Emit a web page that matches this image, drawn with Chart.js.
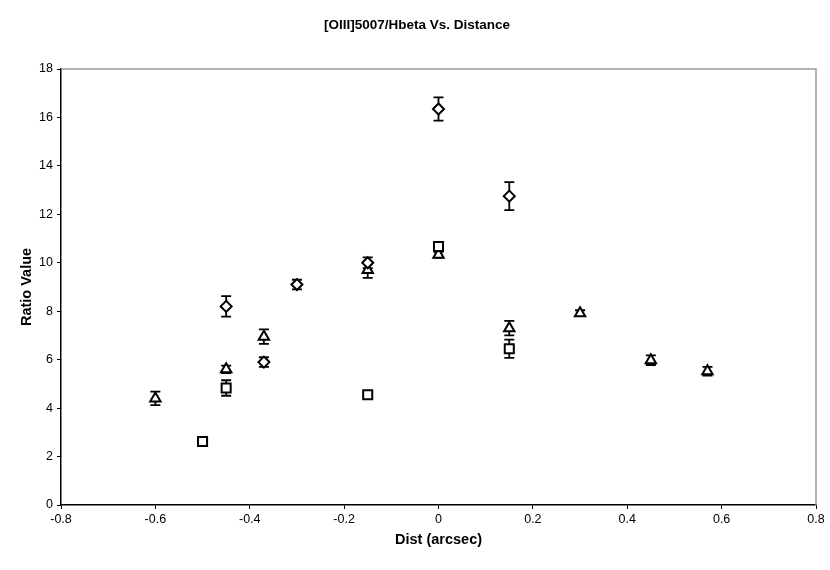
<!DOCTYPE html>
<html>
<head>
<meta charset="utf-8">
<script src="https://cdn.jsdelivr.net/npm/chart.js@4"></script>
<style>
  html, body { margin: 0; padding: 0; background: #fff; }
  #wrap { width: 830px; height: 570px; }
</style>
</head>
<body>
<div id="wrap"><canvas id="chart"></canvas></div>
<script>
// values
const diamondX = [-0.45, -0.37, -0.30, -0.15, 0, 0.15];
const diamondY = [8.2, 5.9, 9.1, 10.0, 16.35, 12.75];
const diamondErr = [0.42, 0.2, 0.2, 0.22, 0.48, 0.58];

const squareX = [-0.5, -0.45, -0.15, 0, 0.15];
const squareY = [2.62, 4.83, 4.55, 10.67, 6.45];
const squareErr = [0.08, 0.32, 0.1, 0.12, 0.38];

const triangleX = [-0.6, -0.45, -0.37, -0.15, 0, 0.15, 0.3, 0.45, 0.57];
const triangleY = [4.4, 5.6, 6.95, 9.7, 10.33, 7.3, 7.92, 5.98, 5.52];
const triangleErr = [0.28, 0.15, 0.3, 0.32, 0.12, 0.3, 0.12, 0.2, 0.18];

const xTicks = [-0.8, -0.6, -0.4, -0.2, 0, 0.2, 0.4, 0.6, 0.8];
const yTicks = [0, 2, 4, 6, 8, 10, 12, 14, 16, 18];

const FONT = "'Liberation Sans', Arial, sans-serif";

function toPoints(xs, ys, errs) {
    return xs.map((x, i) => ({ x: x, y: ys[i], err: errs[i] }));
}

function makeSet(label, xs, ys, errs, style, radius) {
    return {
        label: label,
        data: toPoints(xs, ys, errs),
        pointStyle: style,
        pointRadius: radius,
        pointHoverRadius: radius,
        pointBackgroundColor: '#fff',
        pointBorderColor: '#000',
        pointBorderWidth: 2,
        showLine: false,
    };
}

// vertical error bars with caps, drawn under the markers
const errorBars = {
    id: 'errorBars',
    beforeDatasetsDraw(chart) {
        const ctx = chart.ctx;
        const xs = chart.scales.x, ys = chart.scales.y;
        ctx.save();
        ctx.strokeStyle = '#000';
        ctx.lineWidth = 1.8;
        chart.data.datasets.forEach(ds => {
            ds.data.forEach(p => {
                const px = xs.getPixelForValue(p.x);
                const top = ys.getPixelForValue(p.y + p.err);
                const bot = ys.getPixelForValue(p.y - p.err);
                ctx.beginPath();
                ctx.moveTo(px, top); ctx.lineTo(px, bot);
                ctx.moveTo(px - 5, top); ctx.lineTo(px + 5, top);
                ctx.moveTo(px - 5, bot); ctx.lineTo(px + 5, bot);
                ctx.stroke();
            });
        });
        ctx.restore();
    }
};

// grey frame on top and right of the plot area
const frame = {
    id: 'frame',
    beforeDatasetsDraw(chart) {
        const a = chart.chartArea, ctx = chart.ctx;
        ctx.save();
        ctx.strokeStyle = '#9a9a9a';
        ctx.lineWidth = 1.5;
        ctx.beginPath();
        ctx.moveTo(a.left, a.top);
        ctx.lineTo(a.right, a.top);
        ctx.lineTo(a.right, a.bottom);
        ctx.stroke();
        ctx.restore();
    }
};

new Chart(document.getElementById('chart'), {
    type: 'scatter',
    data: {
        datasets: [
            makeSet('Diamond', diamondX, diamondY, diamondErr, 'rectRot', 5.5),
            makeSet('Square', squareX, squareY, squareErr, 'rect', 6.4),
            makeSet('Triangle', triangleX, triangleY, triangleErr, 'triangle', 6),
        ]
    },
    options: {
        responsive: true,
        maintainAspectRatio: false,
        animation: false,
        layout: { padding: { left: 18, right: 14, top: 0, bottom: 21 } },
        plugins: {
            legend: { display: false },
            tooltip: { enabled: false },
            title: {
                display: true,
                text: '[OIII]5007/Hbeta Vs. Distance',
                color: '#000',
                font: { family: FONT, size: 13.5, weight: 'bold' },
                padding: { top: 17, bottom: 35.8 }
            }
        },
        scales: {
            x: {
                type: 'linear',
                min: -0.8,
                max: 0.8,
                afterBuildTicks: s => { s.ticks = xTicks.map(v => ({ value: v })); },
                afterFit: s => { s.height = 44; },
                ticks: {
                    color: '#000',
                    font: { family: FONT, size: 12.5 },
                    padding: 3,
                    callback: v => String(Number(v.toFixed(1)))
                },
                grid: { display: true, drawOnChartArea: false, drawTicks: true, tickLength: 4, color: '#000' },
                border: { display: true, color: '#000', width: 1.5 },
                title: {
                    display: true,
                    text: 'Dist (arcsec)',
                    color: '#000',
                    font: { family: FONT, size: 14.5, weight: 'bold' },
                    padding: { top: 4, bottom: 0 }
                }
            },
            y: {
                type: 'linear',
                min: 0,
                max: 18,
                afterBuildTicks: s => { s.ticks = yTicks.map(v => ({ value: v })); },
                afterFit: s => { s.width = 43; },
                ticks: {
                    color: '#000',
                    font: { family: FONT, size: 12.5 },
                    padding: 4
                },
                grid: { display: true, drawOnChartArea: false, drawTicks: true, tickLength: 4, color: '#000' },
                border: { display: true, color: '#000', width: 1.5 },
                title: {
                    display: true,
                    text: 'Ratio Value',
                    color: '#000',
                    font: { family: FONT, size: 14.5, weight: 'bold' },
                    padding: { top: 0, bottom: 4 }
                }
            }
        }
    },
    plugins: [frame, errorBars]
});
</script>
</body>
</html>
